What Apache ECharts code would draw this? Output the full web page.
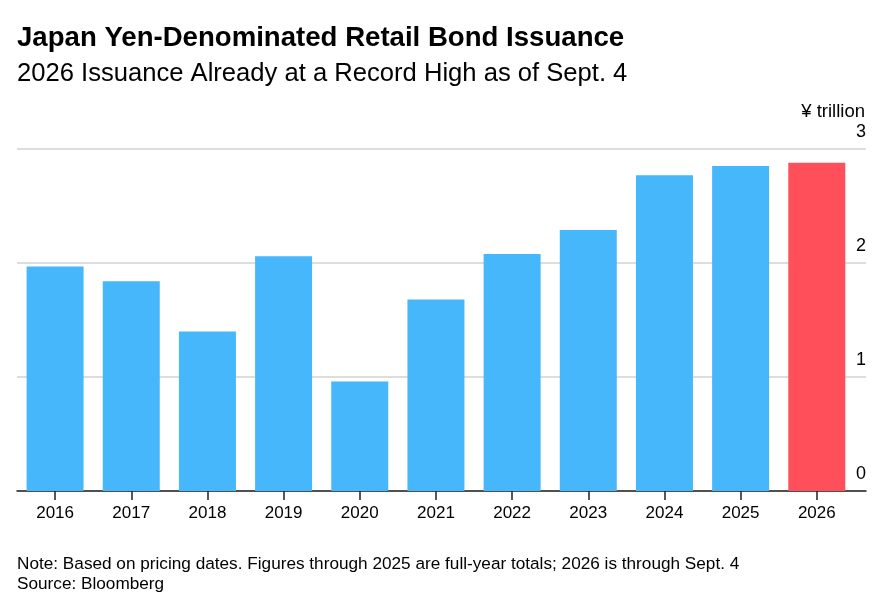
<!DOCTYPE html>
<html>
<head>
<meta charset="utf-8">
<script src="https://cdn.jsdelivr.net/npm/echarts@6/dist/echarts.min.js"></script>
<style>
  html, body { margin: 0; padding: 0; background: #fff; }
  #main { width: 880px; height: 615px; }
</style>
</head>
<body>
<div id="main"></div>
<script>
// issuance, ¥ trillion (2026 is through Sept. 4)
var years = ['2016', '2017', '2018', '2019', '2020', '2021', '2022', '2023', '2024', '2025', '2026'];
var issuance = [1.97, 1.84, 1.40, 2.06, 0.96, 1.68, 2.08, 2.29, 2.77, 2.85, 2.88];
var yTicks = [0, 1, 2, 3];

var FONT = '"Liberation Sans", Arial, Helvetica, sans-serif';
var BLUE = '#46b7fb';
var RED = '#ff4f5b';

var barData = years.map(function (y, i) {
    return {
        value: [i, issuance[i]],
        itemStyle: { color: i === years.length - 1 ? RED : BLUE }
    };
});

var myChart = echarts.init(document.getElementById('main'));

var option = {
    animation: false,
    backgroundColor: '#fff',
    textStyle: { fontFamily: FONT },
    title: [
        {
            text: 'Japan Yen-Denominated Retail Bond Issuance',
            left: 12, top: 19,
            textStyle: { fontSize: 27.6, fontWeight: 'bold', color: '#000', fontFamily: FONT }
        },
        {
            text: '2026 Issuance Already at a Record High as of Sept. 4',
            left: 12, top: 56,
            textStyle: { fontSize: 25.6, fontWeight: 'normal', color: '#000', fontFamily: FONT }
        },
        {
            text: '¥ trillion',
            right: 10, top: 97,
            textStyle: { fontSize: 18.5, fontWeight: 'normal', color: '#000', fontFamily: FONT }
        },
        {
            text: 'Note: Based on pricing dates. Figures through 2025 are full-year totals; 2026 is through Sept. 4\nSource: Bloomberg',
            left: 12, top: 549,
            textStyle: { fontSize: 17.2, lineHeight: 20, fontWeight: 'normal', color: '#000', fontFamily: FONT }
        }
    ],
    grid: { left: 17, right: 14, top: 149, bottom: 124, containLabel: false },
    xAxis: {
        type: 'value',
        min: -0.5,
        max: 10.646,
        axisLine: { show: true, onZero: false, lineStyle: { color: '#222', width: 1.5 } },
        axisTick: {
            show: true, length: 9, lineStyle: { color: '#222', width: 1.5 },
            customValues: years.map(function (y, i) { return i; })
        },
        axisLabel: {
            color: '#000', fontSize: 17, margin: 14, fontFamily: FONT,
            customValues: years.map(function (y, i) { return i; }),
            formatter: function (v) { return years[Math.round(v)]; }
        },
        splitLine: { show: false }
    },
    yAxis: {
        type: 'value',
        position: 'right',
        min: 0,
        max: 3,
        interval: 1,
        axisLine: { show: false },
        axisTick: { show: false },
        axisLabel: {
            inside: true, margin: 0, color: '#000', fontSize: 18, fontFamily: FONT,
            verticalAlign: 'bottom', padding: [0, 0, 8, 0],
            customValues: yTicks
        },
        splitLine: { show: true, lineStyle: { color: '#d2d2d2', width: 1.5 } }
    },
    series: [
        {
            type: 'bar',
            barWidth: 57,
            data: barData
        }
    ]
};

myChart.setOption(option);
</script>
</body>
</html>
